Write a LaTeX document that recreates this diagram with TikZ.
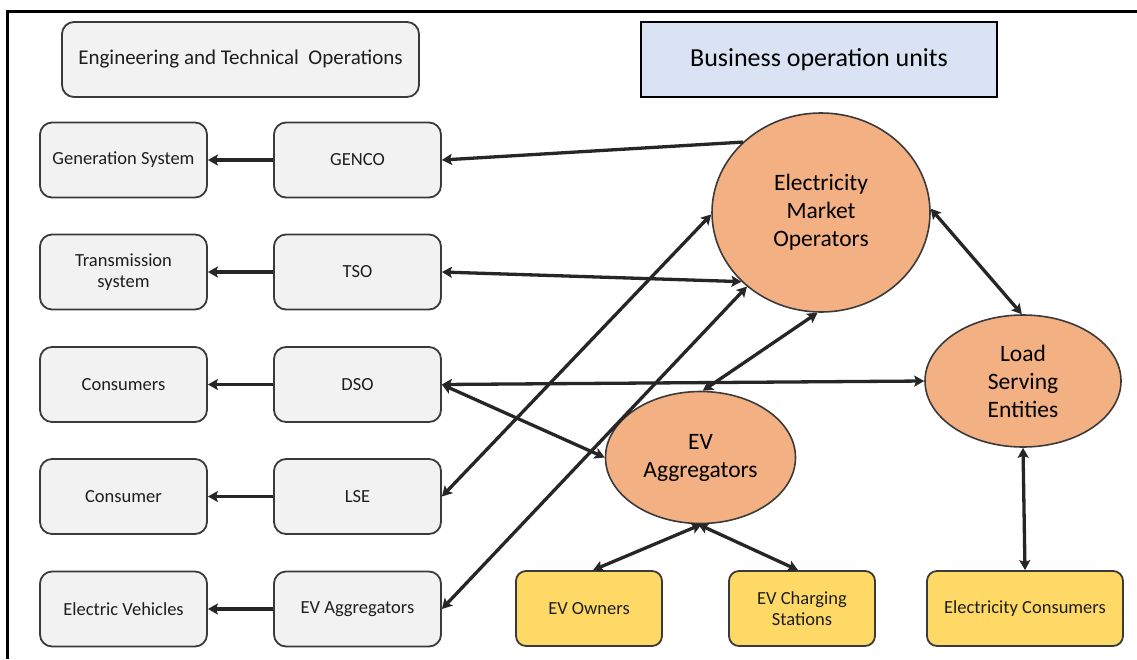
\documentclass[tikz,border=0pt]{standalone}
\usepackage{fontspec}
\setmainfont{Carlito}
\usetikzlibrary{arrows.meta,shapes.geometric}
\definecolor{boxfill}{HTML}{F2F2F2}
\definecolor{boxline}{HTML}{3A3A3A}
\definecolor{txt}{HTML}{1E1E1E}
\definecolor{bizfill}{HTML}{DAE3F3}
\definecolor{orangefill}{HTML}{F3B183}
\definecolor{yellowfill}{HTML}{FFD966}
\definecolor{arrowcol}{HTML}{262626}
\begin{document}
\begin{tikzpicture}[x=1pt,y=-1pt,
  greybox/.style={draw=boxline, fill=boxfill, rounded corners=12pt, line width=1.8pt,
    minimum width=167pt, minimum height=75pt, inner sep=0pt, align=center,
    font=\fontsize{18.5}{21.5}\selectfont, text=txt},
  yellowbox/.style={draw=boxline, fill=yellowfill, rounded corners=10pt, line width=1.8pt,
    minimum width=146pt, minimum height=75pt, inner sep=0pt, align=center,
    font=\fontsize{18.5}{21.5}\selectfont, text=txt},
  oval/.style={ellipse, draw=boxline, fill=orangefill, line width=1.6pt, inner sep=0pt,
    align=center, font=\fontsize{23.5}{28}\selectfont, text=black},
  tip/.tip={Stealth[length=10pt,width=11pt,inset=2pt]},
  onearrow/.style={draw=arrowcol, line width=3.3pt, -tip},
  twoarrow/.style={draw=arrowcol, line width=3.3pt, tip-tip},
  frameline/.style={draw=black, line width=3pt}
]
\useasboundingbox (0,0) rectangle (1137,659);
\fill[white] (0,0) rectangle (1137,659);

% frame (top and left edges)
\coordinate (fA) at (7,659);
\coordinate (fB) at (7,11);
\coordinate (fC) at (1137,11);
\draw[frameline] (fA) -- (fB) -- (fC);

% headings
\node[greybox, minimum width=357pt, font=\fontsize{21}{25}\selectfont] (eng) at (240.5,59.5) {Engineering and Technical\ \ Operations};
\node[draw=black, fill=bizfill, line width=1.8pt, minimum width=356pt, minimum height=75pt, inner sep=0pt,
  font=\fontsize{26}{30}\selectfont, text=black] (biz) at (819,59.5) {Business operation units};

% left column
\node[greybox] (gensys) at (123.5,160) {Generation System};
\node[greybox] (trans) at (123.5,272) {Transmission\\system};
\node[greybox] (cons1) at (123.5,384.5) {Consumers};
\node[greybox] (cons2) at (123.5,496.5) {Consumer};
\node[greybox] (ev) at (123.5,609) {Electric Vehicles};

% middle column
\node[greybox] (genco) at (357.5,160) {GENCO};
\node[greybox] (tso) at (357.5,272) {TSO};
\node[greybox] (dso) at (357.5,384.5) {DSO};
\node[greybox] (lse) at (357.5,496.5) {LSE};
\node[greybox] (evab) at (357.5,609) {EV Aggregators};

% ellipses
\node[oval, minimum width=218pt, minimum height=199pt] (emo) at (821,212.5) {Electricity\\Market\\Operators};
\node[oval, minimum width=196pt, minimum height=132pt] (lsee) at (1023,381) {Load\\Serving\\Entities};
\node[oval, minimum width=190pt, minimum height=132pt] (evae) at (700.5,457.5) {EV\\Aggregators};

% yellow boxes
\node[yellowbox] (owners) at (589,608.5) {EV Owners};
\node[yellowbox] (charging) at (802,608.5) {EV Charging\\Stations};
\node[yellowbox, minimum width=196pt] (econs) at (1025,608.5) {Electricity Consumers};

% left short arrows
\draw[onearrow] (genco.west) -- (gensys.east);
\draw[onearrow] (tso.west) -- (trans.east);
\draw[onearrow] (dso.west) -- (cons1.east);
\draw[onearrow] (lse.west) -- (cons2.east);
\draw[onearrow] (evab.west) -- (ev.east);

% market connectors
\draw[onearrow] (emo.138) -- (genco.east);
\draw[twoarrow] (tso.east) -- (emo.221);
\draw[twoarrow] (lse.east) -- (emo.181);
\draw[twoarrow] (evab.east) -- (emo.225);
\draw[twoarrow] (evae.88) -- (emo.268);
\draw[twoarrow] (emo.2) -- (lsee.91);
\draw[twoarrow] (dso.east) -- (lsee.180);
\draw[twoarrow] (dso.east) -- (evae.180);
\draw[twoarrow] (evae.271) -- (owners.84);
\draw[twoarrow] (evae.268) -- (charging.96);
\draw[twoarrow] (lsee.270) -- (econs.north);
\end{tikzpicture}
\end{document}
